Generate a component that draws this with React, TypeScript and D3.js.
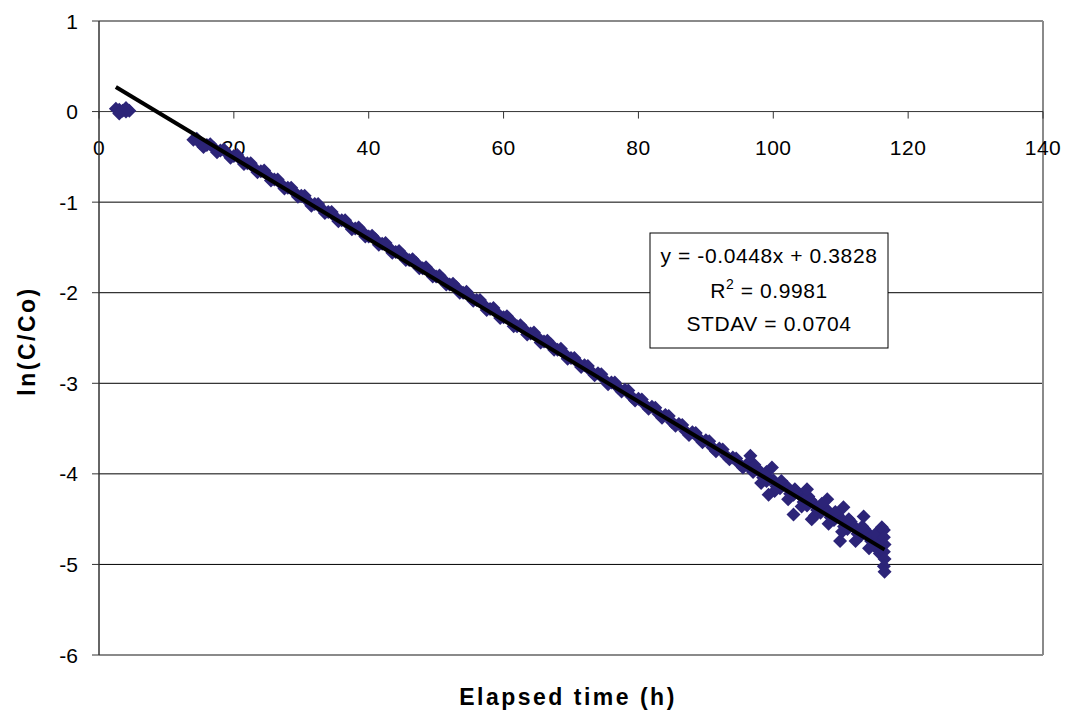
import React from "react";
import * as d3 from "d3";

// ---- data ----
const earlyTime = [2.5, 3.0, 3.5, 4.0, 4.5, 3.0, 4.0];
const earlyLn = [0.03, 0.02, 0.01, 0.0, 0.01, -0.02, 0.04];

const bandTime = [
  14, 15, 16, 17, 18, 19, 20, 21, 22, 23, 24, 25, 26, 27, 28, 29, 30, 31, 32, 33,
  34, 35, 36, 37, 38, 39, 40, 41, 42, 43, 44, 45, 46, 47, 48, 49, 50, 51, 52, 53,
  54, 55, 56, 57, 58, 59, 60, 61, 62, 63, 64, 65, 66, 67, 68, 69, 70, 71, 72, 73,
  74, 75, 76, 77, 78, 79, 80, 81, 82, 83, 84, 85, 86, 87, 88, 89, 90, 91, 92, 93,
  94, 95, 96, 97, 98, 99, 100, 101, 102, 103, 104, 105, 106, 107, 108, 109, 110,
  111, 112, 113, 114, 115, 116,
];
const bandLn = [
  -0.31, -0.35, -0.37, -0.40, -0.43, -0.46, -0.49, -0.53, -0.57, -0.62, -0.66, -0.70,
  -0.75, -0.80, -0.84, -0.89, -0.93, -0.99, -1.02, -1.07, -1.11, -1.16, -1.20, -1.25,
  -1.29, -1.32, -1.38, -1.41, -1.46, -1.50, -1.55, -1.58, -1.64, -1.67, -1.73, -1.76,
  -1.82, -1.85, -1.91, -1.94, -2.00, -2.04, -2.08, -2.13, -2.18, -2.22, -2.27, -2.30,
  -2.37, -2.40, -2.45, -2.49, -2.54, -2.57, -2.63, -2.67, -2.72, -2.77, -2.80, -2.87,
  -2.89, -2.96, -2.99, -3.05, -3.07, -3.15, -3.17, -3.24, -3.26, -3.34, -3.35, -3.43,
  -3.45, -3.53, -3.54, -3.61, -3.63, -3.71, -3.72, -3.80, -3.82, -3.89, -3.90, -3.98,
  -3.97, -4.08, -4.07, -4.16, -4.14, -4.23, -4.24, -4.35, -4.33, -4.43, -4.40, -4.51,
  -4.49, -4.61, -4.58, -4.68, -4.65, -4.80, -4.76,
];

const halfTime = [
  14.5, 15.5, 16.5, 17.5, 18.5, 19.5, 20.5, 21.5, 22.5, 23.5, 24.5, 25.5, 26.5, 27.5,
  28.5, 29.5, 30.5, 31.5, 32.5, 33.5, 34.5, 35.5, 36.5, 37.5, 38.5, 39.5, 40.5, 41.5,
  42.5, 43.5, 44.5, 45.5, 46.5, 47.5, 48.5, 49.5, 50.5, 51.5, 52.5, 53.5, 54.5, 55.5,
  56.5, 57.5, 58.5, 59.5, 60.5, 61.5, 62.5, 63.5, 64.5, 65.5, 66.5, 67.5, 68.5, 69.5,
  70.5, 71.5, 72.5, 73.5, 74.5, 75.5, 76.5, 77.5, 78.5, 79.5, 80.5, 81.5, 82.5, 83.5,
  84.5, 85.5, 86.5, 87.5, 88.5, 89.5, 90.5, 91.5, 92.5, 93.5, 94.5, 95.5,
];
const halfLn = [
  -0.30, -0.39, -0.36, -0.45, -0.42, -0.51, -0.48, -0.58, -0.57, -0.67, -0.65, -0.76,
  -0.75, -0.85, -0.84, -0.94, -0.93, -1.04, -1.02, -1.12, -1.11, -1.21, -1.20, -1.30,
  -1.28, -1.38, -1.37, -1.47, -1.45, -1.56, -1.54, -1.64, -1.63, -1.73, -1.72, -1.82,
  -1.81, -1.91, -1.90, -2.00, -1.99, -2.09, -2.08, -2.19, -2.17, -2.28, -2.26, -2.37,
  -2.36, -2.46, -2.44, -2.55, -2.53, -2.63, -2.62, -2.73, -2.72, -2.82, -2.81, -2.91,
  -2.90, -3.01, -2.99, -3.09, -3.08, -3.19, -3.18, -3.28, -3.27, -3.38, -3.36, -3.47,
  -3.46, -3.57, -3.55, -3.65, -3.64, -3.75, -3.73, -3.84, -3.83, -3.93,
];

const tailTime = [
  96.5, 97.5, 98.5, 99.5, 100.5, 101.5, 102.5, 103.5, 104.5, 105.5, 106.5, 107.5,
  108.5, 109.5, 110.5, 111.5, 112.5, 113.5, 114.5, 115.5,
  97.2, 98.2, 99.0, 100.2, 101.2, 102.2, 103.2, 104.2, 105.2, 106.2, 107.2, 108.2,
  109.2, 110.2, 111.2, 112.2, 113.2, 114.2, 115.2, 115.8,
  96.6, 99.8, 105.0, 108.0, 110.4, 113.4, 116.1,
  99.3, 103.0, 105.7, 109.9,
  116.4, 116.4, 116.5, 116.4, 116.5, 116.4, 116.5,
];
const tailLn = [
  -3.93, -3.95, -4.04, -4.06, -4.14, -4.12, -4.22, -4.20, -4.31, -4.29, -4.40, -4.37,
  -4.48, -4.45, -4.58, -4.53, -4.66, -4.61, -4.74, -4.70,
  -3.90, -4.10, -3.98, -4.19, -4.08, -4.28, -4.17, -4.36, -4.25, -4.46, -4.33, -4.55,
  -4.42, -4.64, -4.50, -4.74, -4.58, -4.82, -4.66, -4.88,
  -3.80, -3.93, -4.17, -4.28, -4.37, -4.47, -4.59,
  -4.23, -4.45, -4.50, -4.74,
  -4.62, -4.70, -4.78, -4.86, -4.94, -5.02, -5.08,
];

const fitSlope = -0.0448;
const fitIntercept = 0.3828;
const fitRange = [2.5, 116.5];

const xTicks = [0, 20, 40, 60, 80, 100, 120, 140];
const yTicks = [1, 0, -1, -2, -3, -4, -5, -6];

const fitLines = ["y = -0.0448x + 0.3828", "R2 = 0.9981", "STDAV = 0.0704"];

const W = 1068;
const H = 720;
const left = 99;
const right = 1043;
const top = 21;
const bottom = 655;
const FONT = "'Liberation Sans', Arial, sans-serif";
const MARK = "#2C2478";
const R = 7;

export default function App() {
  const x = d3.scaleLinear().domain([0, 140]).range([left, right]);
  const y = d3.scaleLinear().domain([-6, 1]).range([bottom, top]);

  const pts: [number, number][] = [];
  earlyTime.forEach((t, i) => pts.push([t, earlyLn[i]]));
  bandTime.forEach((t, i) => pts.push([t, bandLn[i]]));
  halfTime.forEach((t, i) => pts.push([t, halfLn[i]]));
  tailTime.forEach((t, i) => pts.push([t, tailLn[i]]));

  const diamond = `M0,${-R}L${R},0L0,${R}L${-R},0Z`;

  const fitPath = d3
    .line<number>()
    .x((t) => x(t))
    .y((t) => y(fitSlope * t + fitIntercept))(fitRange);

  const boxX = 650;
  const boxY = 233;
  const boxW = 238;
  const boxH = 115;
  const cx = boxX + boxW / 2;

  return (
    <svg
      width={W}
      height={H}
      style={{ position: "absolute", left: 0, top: 0, background: "#fff" }}
      fontFamily={FONT}
    >
      <rect x={0} y={0} width={W} height={H} fill="#fff" />
      {/* grid lines */}
      {yTicks
        .filter((v) => v !== 1 && v !== -6 && v !== 0)
        .map((v) => (
          <line key={"g" + v} x1={left} x2={right} y1={y(v)} y2={y(v)} stroke="#000" strokeWidth={1} />
        ))}
      {/* plot border top/right/bottom */}
      <line x1={left} x2={right} y1={y(1)} y2={y(1)} stroke="#8a8a8a" strokeWidth={2} />
      <line x1={left} x2={right} y1={y(-6)} y2={y(-6)} stroke="#8a8a8a" strokeWidth={2} />
      <line x1={right} x2={right} y1={top} y2={bottom} stroke="#8a8a8a" strokeWidth={2} />
      {/* x axis at y=0 */}
      <line x1={left} x2={right} y1={y(0)} y2={y(0)} stroke="#333" strokeWidth={1} />
      {xTicks.map((v) => (
        <g key={"xt" + v}>
          <line x1={x(v)} x2={x(v)} y1={y(0)} y2={y(0) + 7} stroke="#333" strokeWidth={1} />
          <text x={x(v)} y={y(0) + 43} textAnchor="middle" fontSize={21} fill="#000" letterSpacing={0.5}>
            {v}
          </text>
        </g>
      ))}
      {/* y axis */}
      <line x1={left} x2={left} y1={top} y2={bottom} stroke="#333" strokeWidth={1.5} />
      {yTicks.map((v) => (
        <g key={"yt" + v}>
          <line x1={left - 7} x2={left} y1={y(v)} y2={y(v)} stroke="#333" strokeWidth={1} />
          <text x={left - 21} y={y(v) + 7.5} textAnchor="end" fontSize={21} fill="#000">
            {v}
          </text>
        </g>
      ))}
      {/* points */}
      {pts.map(([t, v], i) => (
        <path key={"p" + i} d={diamond} transform={`translate(${x(t)},${y(v)})`} fill={MARK} />
      ))}
      {/* fit line */}
      <path d={fitPath || ""} stroke="#000" strokeWidth={4} fill="none" />
      {/* annotation box */}
      <rect x={boxX} y={boxY} width={boxW} height={boxH} fill="#fff" stroke="#000" strokeWidth={1} />
      <text x={cx} y={boxY + 30} textAnchor="middle" fontSize={21} letterSpacing={0.6}>
        {fitLines[0]}
      </text>
      <text x={cx} y={boxY + 65} textAnchor="middle" fontSize={21} letterSpacing={0.6}>
        R<tspan dy={-9} fontSize={14}>2</tspan>
        <tspan dy={9}>{fitLines[1].slice(2)}</tspan>
      </text>
      <text x={cx} y={boxY + 98} textAnchor="middle" fontSize={21} letterSpacing={0.6}>
        {fitLines[2]}
      </text>
      {/* axis titles */}
      <text x={568} y={705} textAnchor="middle" fontSize={23} fontWeight="bold" letterSpacing={2.5}>
        Elapsed time (h)
      </text>
      <text
        transform={`translate(35,${(top + bottom) / 2 + 3}) rotate(-90)`}
        textAnchor="middle"
        fontSize={23}
        fontWeight="bold"
        letterSpacing={2.5}
      >
        ln(C/Co)
      </text>
    </svg>
  );
}
